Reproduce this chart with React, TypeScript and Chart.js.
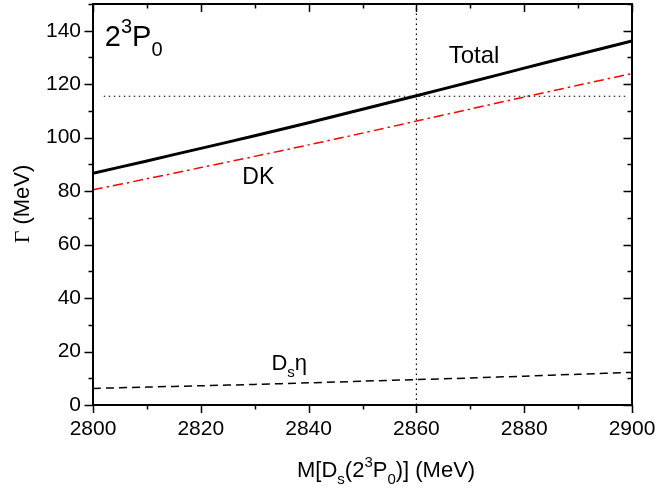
import React, { useEffect, useRef } from "react";
import { Chart, registerables } from "chart.js";

Chart.register(...registerables);

// Mass of Ds(2^3P0) in MeV
const masses = [2800, 2810, 2820, 2830, 2840, 2850, 2860, 2870, 2880, 2890, 2900];
// Partial and total widths (MeV)
const totalWidth = [86.7, 91.3, 96.0, 100.7, 105.6, 110.6, 115.7, 120.8, 126.0, 131.1, 136.2];
const dkWidth = [80.5, 84.6, 88.8, 93.0, 97.3, 101.7, 106.2, 110.7, 115.2, 119.6, 124.0];
const dsEtaWidth = [6.2, 6.7, 7.2, 7.7, 8.3, 8.9, 9.5, 10.1, 10.8, 11.5, 12.2];

// Reference lines
const refMass = [2860];
const refWidth = [115.5];
const refHLineX = [2802, 2899];

const xTicks = [2800, 2820, 2840, 2860, 2880, 2900];
const yTicks = [0, 20, 40, 60, 80, 100, 120, 140];

const FONT = "'Liberation Sans', Arial, Helvetica, sans-serif";
const SERIF = "'Liberation Serif', 'Times New Roman', serif";

const pts = (xs: number[], ys: number[]) => xs.map((x, i) => ({ x, y: ys[i] }));

type Part = { t: string; k?: "sub" | "sup"; f?: string };

function drawRich(
  ctx: CanvasRenderingContext2D,
  parts: Part[],
  x: number,
  y: number,
  size: number,
  align: "left" | "center" = "left"
) {
  const small = Math.round(size * 0.7);
  const setFont = (p: Part) => {
    ctx.font = `${p.k ? small : size}px ${p.f || FONT}`;
  };
  let total = 0;
  for (const p of parts) {
    setFont(p);
    total += ctx.measureText(p.t).width;
  }
  let cx = align === "center" ? x - total / 2 : x;
  ctx.textAlign = "left";
  ctx.textBaseline = "alphabetic";
  for (const p of parts) {
    setFont(p);
    const dy = p.k === "sub" ? size * 0.33 : p.k === "sup" ? -size * 0.45 : 0;
    ctx.fillText(p.t, cx, y + dy);
    cx += ctx.measureText(p.t).width;
  }
}

const framePlugin = {
  id: "framePlugin",
  afterDraw(chart: any) {
    const { ctx, chartArea: a, scales } = chart;
    const xs = scales.x;
    const ys = scales.y;
    ctx.save();
    ctx.strokeStyle = "#000";
    ctx.fillStyle = "#000";
    ctx.lineWidth = 2;
    ctx.strokeRect(a.left, a.top, a.right - a.left, a.bottom - a.top);
    ctx.lineWidth = 1.5;
    for (let v = 2800; v <= 2900; v += 10) {
      const px = Math.round(xs.getPixelForValue(v)) + 0.5;
      const major = v % 20 === 0;
      const L = major ? 8 : 4.5;
      ctx.beginPath();
      ctx.moveTo(px, a.bottom);
      ctx.lineTo(px, a.bottom + L);
      ctx.moveTo(px, a.top);
      ctx.lineTo(px, a.top + L);
      ctx.stroke();
    }
    for (let v = 0; v <= 150; v += 10) {
      const py = Math.round(ys.getPixelForValue(v)) + 0.5;
      const major = v % 20 === 0;
      const L = major ? 8.5 : 4.5;
      ctx.beginPath();
      ctx.moveTo(a.left, py);
      ctx.lineTo(a.left - L, py);
      ctx.moveTo(a.right, py);
      ctx.lineTo(a.right - L, py);
      ctx.stroke();
    }
    // y title
    ctx.save();
    ctx.translate(29, 204);
    ctx.rotate(-Math.PI / 2);
    drawRich(ctx, [{ t: "\u0393", f: SERIF }, { t: " (MeV)" }], 0, 0, 22, "center");
    ctx.restore();
    // x title
    drawRich(
      ctx,
      [
        { t: "M[D" },
        { t: "s", k: "sub" },
        { t: "(2" },
        { t: "3", k: "sup" },
        { t: "P" },
        { t: "0", k: "sub" },
        { t: ")] (MeV)" },
      ],
      297,
      477,
      22
    );
    // annotations
    const X = (v: number) => xs.getPixelForValue(v);
    const Y = (v: number) => ys.getPixelForValue(v);
    drawRich(ctx, [{ t: "2" }, { t: "3", k: "sup" }, { t: "P" }, { t: "0", k: "sub" }], X(2802.2), Y(134.3), 29);
    drawRich(ctx, [{ t: "Total" }], X(2866.0), Y(128.0), 24);
    drawRich(ctx, [{ t: "DK" }], X(2827.7), Y(82.5), 23);
    drawRich(ctx, [{ t: "D" }, { t: "s", k: "sub" }, { t: "\u03b7" }], X(2833.1), Y(13.1), 22);
    ctx.restore();
  },
};

const zeroPad = (s: any) => {
  s.paddingTop = 0;
  s.paddingBottom = 0;
  s.paddingLeft = 0;
  s.paddingRight = 0;
};

export default function App() {
  const ref = useRef<HTMLCanvasElement | null>(null);
  useEffect(() => {
    if (!ref.current) return;
    const chart = new Chart(ref.current, {
      type: "line",
      data: {
        datasets: [
          {
            label: "vline",
            data: [
              { x: refMass[0], y: 0 },
              { x: refMass[0], y: 150 },
            ],
            borderColor: "#000",
            borderWidth: 1.2,
            borderDash: [1.5, 3.5],
            pointRadius: 0,
          },
          {
            label: "hline",
            data: refHLineX.map((x) => ({ x, y: refWidth[0] })),
            borderColor: "#000",
            borderWidth: 1.2,
            borderDash: [1.5, 3.5],
            pointRadius: 0,
          },
          {
            label: "Ds eta",
            data: pts(masses, dsEtaWidth),
            borderColor: "#000",
            borderWidth: 1.5,
            borderDash: [8, 5],
            pointRadius: 0,
            tension: 0.3,
          },
          {
            label: "DK",
            data: pts(masses, dkWidth),
            borderColor: "#ff0000",
            borderWidth: 1.5,
            borderDash: [10, 4, 2.5, 4],
            pointRadius: 0,
            tension: 0.3,
          },
          {
            label: "Total",
            data: pts(masses, totalWidth),
            borderColor: "#000",
            borderWidth: 3,
            pointRadius: 0,
            tension: 0.3,
          },
        ],
      },
      options: {
        responsive: false,
        animation: false,
        events: [],
        layout: { padding: { top: 4, right: 26, bottom: 0, left: 0 } },
        plugins: { legend: { display: false }, tooltip: { enabled: false } },
        scales: {
          x: {
            type: "linear",
            min: 2800,
            max: 2900,
            grid: { display: false },
            border: { display: false },
            afterFit: (s: any) => {
              s.height = 86;
              zeroPad(s);
            },
            afterBuildTicks: (s: any) => {
              s.ticks = xTicks.map((value) => ({ value }));
            },
            ticks: {
              color: "#000",
              padding: 4,
              maxRotation: 0,
              font: { family: FONT, size: 21 },
              callback: (v: any) => String(v),
            },
          },
          y: {
            type: "linear",
            min: 0,
            max: 150,
            grid: { display: false },
            border: { display: false },
            afterFit: (s: any) => {
              s.width = 93;
              zeroPad(s);
            },
            afterBuildTicks: (s: any) => {
              s.ticks = yTicks.map((value) => ({ value }));
            },
            ticks: {
              color: "#000",
              padding: 4,
              font: { family: FONT, size: 21 },
              callback: (v: any) => String(v),
            },
          },
        },
      },
      plugins: [framePlugin],
    } as any);
    return () => chart.destroy();
  }, []);
  return (
    <div style={{ position: "fixed", left: 0, top: 0, width: 658, height: 491, background: "#fff" }}>
      <canvas ref={ref} width={658} height={491} style={{ display: "block" }} />
    </div>
  );
}
